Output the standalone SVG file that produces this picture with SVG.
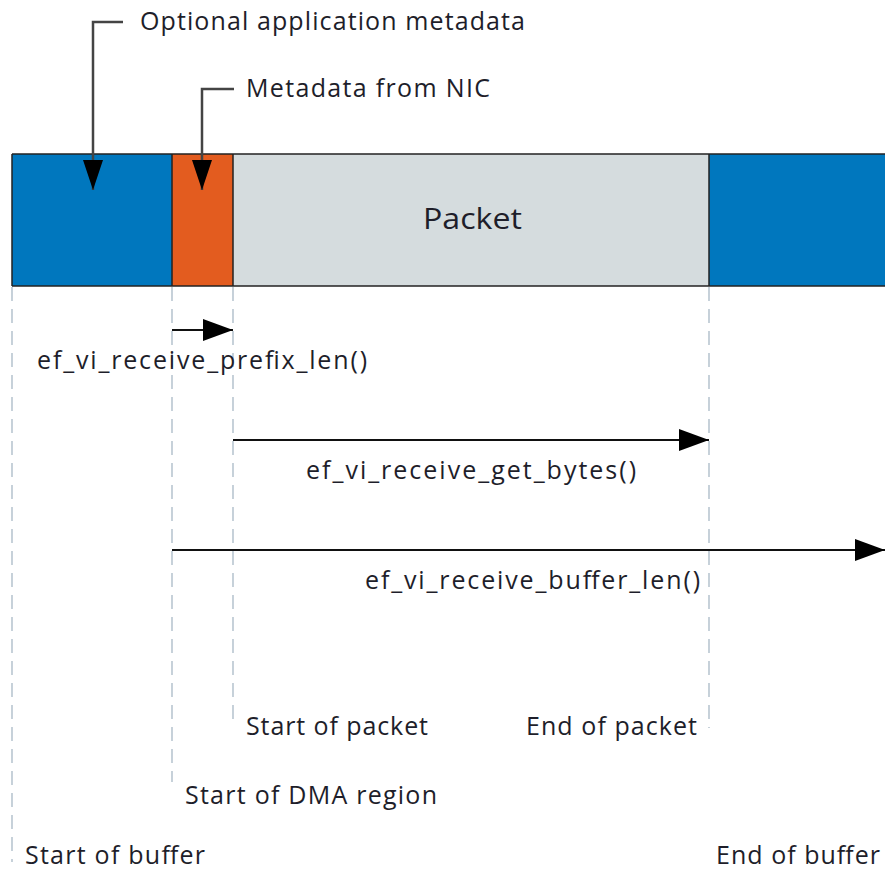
<svg xmlns="http://www.w3.org/2000/svg" width="885" height="870" viewBox="0 0 885 870">
<style>
text{font-family:"Open Sans","Noto Sans","DejaVu Sans",sans-serif;font-size:25px;fill:#1e1e2a}
.dash{stroke:#a9b9c6;stroke-width:1.3;stroke-dasharray:14 8;fill:none}
.ln{stroke:#111;stroke-width:2;fill:none}
.lead{stroke:#444;stroke-width:2.5;fill:none}
.bd{stroke:#222;stroke-width:1.5}
</style>
<defs>
<marker id="ah" viewBox="0 0 30 22" refX="30" refY="11" markerWidth="30" markerHeight="22" markerUnits="userSpaceOnUse" orient="auto"><path d="M0,0 L30,11 L0,22 Z" fill="#000"/></marker>
<marker id="ahs" viewBox="0 0 30 20" refX="30" refY="10" markerWidth="30" markerHeight="20" markerUnits="userSpaceOnUse" orient="auto"><path d="M0,0 L30,10 L0,20 Z" fill="#000"/></marker>
</defs>
<g id="buffer">
<rect x="12" y="154" width="160" height="132" fill="#0077be"/>
<rect x="709" y="154" width="190" height="132" fill="#0077be"/>
<rect x="172" y="154" width="61" height="132" fill="#e35c1f"/>
<rect x="233" y="154" width="476" height="132" fill="#d5dcde"/>
<line class="bd" x1="12" y1="154" x2="885" y2="154"/>
<line class="bd" x1="12" y1="286" x2="885" y2="286"/>
<line class="bd" x1="12" y1="154" x2="12" y2="286"/>
<line class="bd" x1="172" y1="154" x2="172" y2="286"/>
<line class="bd" x1="233" y1="154" x2="233" y2="286"/>
<line class="bd" x1="709" y1="154" x2="709" y2="286"/>
<text x="423" y="229" style="font-size:29px" textLength="99" lengthAdjust="spacingAndGlyphs">Packet</text>
</g>
<g id="connectors">
<line class="dash" x1="12" y1="287" x2="12" y2="862"/>
<line class="dash" x1="172" y1="287" x2="172" y2="782"/>
<line class="dash" x1="233" y1="287" x2="233" y2="725"/>
<line class="dash" x1="709" y1="287" x2="709" y2="728"/>
<path class="lead" d="M123,22 H93 V190" marker-end="url(#ahs)"/>
<path class="lead" d="M234,89 H202 V190" marker-end="url(#ahs)"/>
<line class="ln" x1="172" y1="330" x2="233" y2="330" marker-end="url(#ah)"/>
<line class="ln" x1="233" y1="440" x2="709" y2="440" marker-end="url(#ah)"/>
<line class="ln" x1="172" y1="550" x2="885" y2="550" marker-end="url(#ah)"/>
</g>
<g id="labels">
<text x="140" y="30" textLength="385">Optional application metadata</text>
<text x="246" y="97" textLength="244">Metadata from NIC</text>
<text x="37" y="369" textLength="330">ef_vi_receive_prefix_len()</text>
<text x="306" y="479" textLength="330">ef_vi_receive_get_bytes()</text>
<text x="365" y="589" textLength="335">ef_vi_receive_buffer_len()</text>
<text x="246" y="735" textLength="182">Start of packet</text>
<text x="526" y="735" textLength="171">End of packet</text>
<text x="185" y="804" textLength="252">Start of DMA region</text>
<text x="25" y="864" textLength="180">Start of buffer</text>
<text x="716" y="864" textLength="164">End of buffer</text>
</g>
</svg>
